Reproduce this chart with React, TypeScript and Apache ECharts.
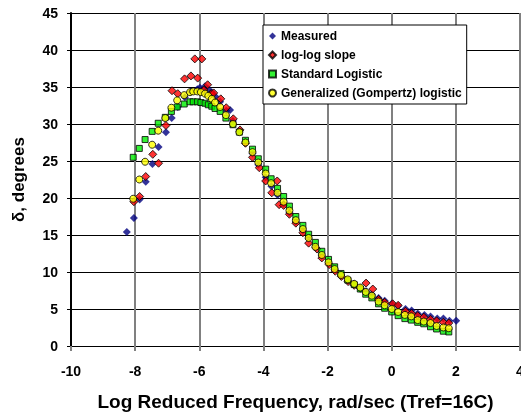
import React, { useEffect, useRef } from "react";
import * as echarts from "echarts";

// Log reduced frequency (x), phase angle delta in degrees (y)
const measured: [number, number][] = [
  [-8.26, 15.4], [-8.04, 17.3], [-7.86, 19.8], [-7.67, 22.2], [-7.46, 24.6], [-7.27, 26.9],
  [-7.04, 28.9], [-6.86, 30.8], [-6.67, 32.3], [-6.45, 33.6], [-6.26, 34.4], [-6.06, 34.7],
  [-5.98, 34.9], [-5.82, 35.1], [-5.72, 34.7], [-5.61, 34.3], [-5.5, 33.7], [-5.35, 33.0],
  [-5.16, 31.8], [-5.04, 31.9], [-4.95, 30.4], [-4.75, 29.0], [-4.56, 27.6], [-4.34, 26.0],
  [-4.16, 24.5], [-3.93, 22.8], [-3.75, 21.6], [-3.56, 20.4], [-3.37, 19.2], [-3.19, 18.0],
  [-2.99, 16.8], [-2.77, 15.6], [-2.59, 14.5], [-2.38, 13.3], [-2.18, 12.2], [-1.97, 11.2],
  [-1.78, 10.3], [-1.58, 9.6], [-1.37, 8.9], [-1.17, 8.4], [-0.98, 7.8], [-0.8, 7.4],
  [-0.62, 7.0], [-0.41, 6.5], [-0.22, 6.1], [0.0, 5.7], [0.2, 5.4], [0.43, 5.0],
  [0.62, 4.8], [0.81, 4.4], [1.02, 4.2], [1.21, 4.0], [1.42, 3.7], [1.61, 3.7],
  [1.8, 3.4], [2.01, 3.4],
];

const logLogSlope: [number, number][] = [
  [-8.04, 19.5], [-7.86, 20.2], [-7.67, 22.9], [-7.45, 25.9], [-7.27, 24.7], [-7.04, 29.8],
  [-6.85, 34.5], [-6.67, 34.1], [-6.46, 36.1], [-6.26, 36.5], [-6.14, 38.8], [-6.05, 36.2],
  [-5.92, 38.8], [-5.86, 34.6], [-5.74, 35.3], [-5.63, 34.1], [-5.55, 34.2], [-5.33, 33.4],
  [-5.16, 32.2], [-4.94, 30.7], [-4.73, 29.2], [-4.56, 27.4], [-4.34, 25.5], [-4.13, 24.1],
  [-3.93, 22.3], [-3.74, 20.7], [-3.57, 22.3], [-3.51, 19.1], [-3.37, 19.0], [-3.19, 17.8],
  [-2.99, 16.6], [-2.77, 15.3], [-2.59, 13.9], [-2.33, 13.1], [-2.18, 11.9], [-1.95, 11.0],
  [-1.76, 10.1], [-1.57, 9.4], [-1.36, 8.7], [-1.17, 8.2], [-0.98, 7.8], [-0.8, 8.5],
  [-0.59, 7.7], [-0.41, 6.3], [-0.22, 5.9], [0.03, 5.7], [0.2, 5.5], [0.43, 4.7],
  [0.62, 4.4], [0.81, 4.1], [1.0, 3.9], [1.21, 3.6], [1.4, 3.4], [1.61, 3.2], [1.78, 3.1],
];

const standardLogistic: [number, number][] = [
  [-8.06, 25.5], [-7.87, 26.7], [-7.69, 27.9], [-7.47, 29.0], [-7.28, 30.1], [-7.06, 30.9],
  [-6.87, 31.7], [-6.69, 32.3], [-6.47, 32.7], [-6.29, 33.0], [-6.19, 33.0], [-6.06, 33.0],
  [-5.95, 32.9], [-5.82, 32.8], [-5.72, 32.6], [-5.61, 32.4], [-5.51, 32.1], [-5.35, 31.7],
  [-5.17, 30.8], [-4.95, 29.9], [-4.75, 28.9], [-4.56, 27.8], [-4.34, 26.6], [-4.16, 25.3],
  [-3.93, 23.9], [-3.76, 22.6], [-3.56, 21.3], [-3.37, 20.2], [-3.19, 18.9], [-2.99, 17.5],
  [-2.77, 16.3], [-2.59, 15.1], [-2.38, 14.0], [-2.18, 12.8], [-1.97, 11.7], [-1.78, 10.7],
  [-1.58, 9.8], [-1.37, 8.9], [-1.17, 8.3], [-0.98, 7.7], [-0.81, 7.0], [-0.62, 6.5],
  [-0.41, 5.7], [-0.22, 5.1], [0.0, 4.6], [0.2, 4.1], [0.41, 3.7], [0.61, 3.5],
  [0.81, 3.2], [1.0, 3.0], [1.21, 2.6], [1.4, 2.3], [1.61, 2.0], [1.78, 1.9],
];

const gompertzLogistic: [number, number][] = [
  [-8.06, 19.9], [-7.87, 22.5], [-7.69, 24.9], [-7.47, 27.2], [-7.28, 29.1], [-7.06, 30.8],
  [-6.87, 32.2], [-6.69, 33.2], [-6.47, 33.9], [-6.29, 34.3], [-6.19, 34.4], [-6.06, 34.4],
  [-5.95, 34.3], [-5.82, 34.1], [-5.72, 33.8], [-5.61, 33.4], [-5.51, 32.9], [-5.35, 32.3],
  [-5.17, 31.2], [-4.95, 30.0], [-4.75, 28.9], [-4.56, 27.5], [-4.34, 26.2], [-4.16, 24.8],
  [-3.93, 23.3], [-3.76, 22.0], [-3.56, 20.7], [-3.37, 19.5], [-3.19, 18.3], [-2.99, 17.0],
  [-2.77, 15.8], [-2.59, 14.6], [-2.38, 13.4], [-2.18, 12.3], [-1.97, 11.3], [-1.78, 10.4],
  [-1.58, 9.6], [-1.37, 9.0], [-1.17, 8.4], [-0.98, 7.9], [-0.81, 7.3], [-0.62, 6.8],
  [-0.41, 6.0], [-0.22, 5.5], [0.0, 5.0], [0.2, 4.6], [0.41, 4.2], [0.61, 4.0],
  [0.81, 3.5], [1.0, 3.3], [1.21, 3.1], [1.4, 2.7], [1.61, 2.5], [1.78, 2.4],
];

const seriesNames = [
  "Measured",
  "log-log slope",
  "Standard Logistic",
  "Generalized (Gompertz) logistic",
];

const xTitle = "Log Reduced Frequency, rad/sec (Tref=16C)";
const yTitle = "δ, degrees";

const FONT = "Liberation Sans";

export default function App() {
  const ref = useRef<HTMLDivElement>(null);

  useEffect(() => {
    if (!ref.current) return;
    const chart = echarts.init(ref.current, null, { renderer: "svg" });
    chart.setOption({
      animation: false,
      grid: { left: 71, right: 1, top: 13, bottom: 70, outerBoundsMode: "none" },
      xAxis: {
        type: "value",
        min: -10,
        max: 4,
        interval: 2,
        name: xTitle,
        nameLocation: "middle",
        nameGap: 46,
        nameTextStyle: { color: "#000000", fontWeight: "bold", fontSize: 19, fontFamily: FONT },
        axisLine: { show: true, onZero: false, lineStyle: { color: "#000000", width: 1 } },
        axisTick: { show: true, length: 5, lineStyle: { color: "#808080", width: 2 } },
        axisLabel: {
          color: "#000000",
          fontWeight: "bold",
          fontSize: 14,
          fontFamily: FONT,
          margin: 8,
          padding: [10, 0, 0, 0],
        },
        splitLine: { show: true, lineStyle: { color: "#808080", width: 2 } },
      },
      yAxis: {
        type: "value",
        min: 0,
        max: 45,
        interval: 5,
        name: yTitle,
        nameLocation: "middle",
        nameGap: 44,
        nameTextStyle: { color: "#000000", fontWeight: "bold", fontSize: 17, fontFamily: FONT },
        axisLine: { show: true, onZero: false, lineStyle: { color: "#000000", width: 2 } },
        axisTick: { show: true, length: 4, lineStyle: { color: "#000000", width: 1 } },
        axisLabel: {
          color: "#000000",
          fontWeight: "bold",
          fontSize: 14,
          fontFamily: FONT,
          margin: 8,
          padding: [0, 5, 0, 0],
        },
        splitLine: { show: true, lineStyle: { color: "#000000", width: 1 } },
      },
      legend: {
        orient: "vertical",
        left: 263,
        top: 25,
        itemGap: 7,
        itemWidth: 7,
        itemHeight: 7,
        backgroundColor: "#ffffff",
        borderColor: "#000000",
        borderWidth: 1,
        textStyle: { color: "#000000", fontWeight: "bold", fontSize: 12, fontFamily: FONT },
        data: [
          { name: seriesNames[0], icon: "diamond" },
          { name: seriesNames[1], icon: "diamond" },
          { name: seriesNames[2], icon: "rect" },
          { name: seriesNames[3], icon: "circle" },
        ],
      },
      series: [
        {
          name: seriesNames[0],
          type: "scatter",
          symbol: "diamond",
          symbolSize: 8,
          itemStyle: { color: "#000080" },
          data: measured,
        },
        {
          name: seriesNames[1],
          type: "scatter",
          symbol: "diamond",
          symbolSize: 8,
          itemStyle: { color: "#ff0000", borderColor: "#000000", borderWidth: 1 },
          data: logLogSlope,
        },
        {
          name: seriesNames[2],
          type: "scatter",
          symbol: "rect",
          symbolSize: 6,
          itemStyle: { color: "#00ee00", borderColor: "#000000", borderWidth: 1 },
          data: standardLogistic,
        },
        {
          name: seriesNames[3],
          type: "scatter",
          symbol: "circle",
          symbolSize: 7,
          itemStyle: { color: "#ffff00", borderColor: "#000000", borderWidth: 1 },
          data: gompertzLogistic,
        },
      ],
    });
    return () => chart.dispose();
  }, []);

  return (
    <div style={{ position: "fixed", left: 0, top: 0, width: 521, height: 416 }}>
      <div ref={ref} style={{ width: 521, height: 416 }} />
    </div>
  );
}
